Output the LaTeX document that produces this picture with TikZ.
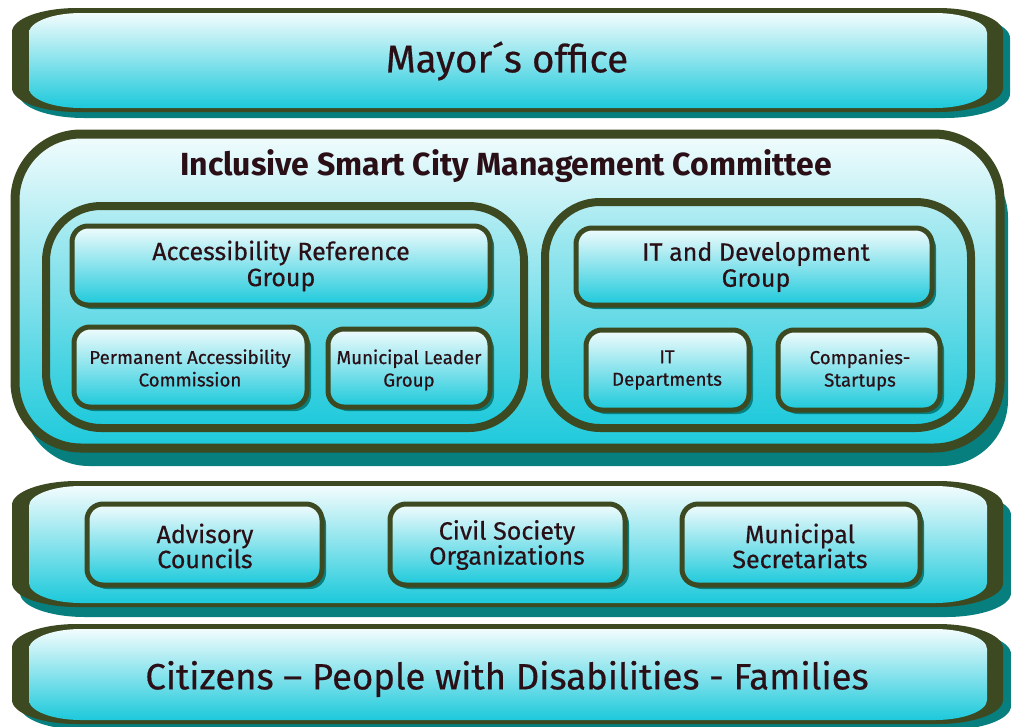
\documentclass[tikz,border=0pt]{standalone}
\usepackage{fontspec}
\setmainfont{Fira Sans}[UprightFeatures={FakeBold=0.5}]
\definecolor{brd}{HTML}{3D4921}
\definecolor{shd}{HTML}{077F7F}
\definecolor{hi}{HTML}{F2FCFD}
\definecolor{lo}{HTML}{1CC9DB}
\definecolor{grphi}{HTML}{B5EDF3}
\definecolor{txt}{HTML}{2A1016}
\newcommand\erect[7]{%
 \path[#1] ({#2+#6},#3) -- ({#4-#6},#3)
  .. controls ({#4-0.45*#6},#3) and (#4,{#3+0.45*#7}) .. (#4,{#3+#7})
  -- (#4,{#5-#7})
  .. controls (#4,{#5-0.45*#7}) and ({#4-0.45*#6},#5) .. ({#4-#6},#5)
  -- ({#2+#6},#5)
  .. controls ({#2+0.45*#6},#5) and (#2,{#5-0.45*#7}) .. (#2,{#5-#7})
  -- (#2,{#3+#7})
  .. controls (#2,{#3+0.45*#7}) and ({#2+0.45*#6},#3) .. ({#2+#6},#3) -- cycle;}
% band: #1 olive top, #2 olive bottom, #3 shadow dx, #4 shadow dy
\newcommand\band[4]{%
 \erect{fill=shd}{12+#3}{#1+#4}{1003+#3}{#2+#4}{65}{24}
 \erect{fill=brd}{12}{#1}{1003}{#2}{65}{24}
 \erect{top color=hi,bottom color=lo}{29}{#1+5}{987}{#2-4}{52}{20}}
\newcommand\smallbx[4]{%
 \path[fill=shd,rounded corners=16] (#1+4,#2+4) rectangle (#3+4,#4+4);
 \path[draw=brd,line width=5pt,top color=hi,bottom color=lo,rounded corners=16] (#1,#2) rectangle (#3,#4);}
\tikzset{
 lbl/.style={text=txt,align=center,inner sep=0pt},
 big/.style={lbl,font=\fontsize{38.5}{44}\selectfont},
 cbig/.style={lbl,font=\fontsize{36.5}{42}\selectfont},
 ttl/.style={lbl,font=\bfseries\fontsize{32}{36}\selectfont},
 grp/.style={lbl,font=\fontsize{25}{26}\selectfont},
 sml/.style={lbl,font=\fontsize{18.7}{22.5}\selectfont},
 mid/.style={lbl,font=\fontsize{25}{25}\selectfont},
}
\begin{document}
\begin{tikzpicture}[x=1pt,y=-1pt]
\useasboundingbox (0,0) rectangle (1011,726);
% Mayor band
\band{8}{112}{7}{6}
\node[big] (mayor) at (507,61) {Mayor´s office};
% Committee
\path[fill=shd,rounded corners=66] (23,152) rectangle (1008,466);
\path[draw=brd,line width=9pt,top color=hi,bottom color=lo,rounded corners=66] (15,134) rectangle (1000,448);
\node[ttl] (title) at (506,166) {Inclusive Smart City Management Committee};
% groups
\path[draw=brd,line width=8pt,top color=grphi,bottom color=lo,rounded corners=55] (46,206) rectangle (524,428);
\path[draw=brd,line width=8pt,top color=grphi,bottom color=lo,rounded corners=55] (545,202) rectangle (971,428);
\smallbx{72}{226}{490}{305}
\node[grp] (arg) at (281,266) {Accessibility Reference\\Group};
\smallbx{576}{228}{932}{305}
\node[grp] (itd) at (756,267) {IT and Development\\Group};
\smallbx{74}{327}{307}{407}
\node[sml] (pac) at (190,368) {Permanent Accessibility\\Commission};
\smallbx{328}{329}{490}{407}
\node[sml] (mlg) at (409,370) {Municipal Leader\\Group};
\smallbx{586}{330}{749}{410}
\node[sml] (itdep) at (667,370) {IT\\Departments};
\smallbx{778}{330}{940}{410}
\node[sml] (comp) at (860,370) {Companies-\\Startups};
% Civil band
\band{481}{607}{8}{10}
\smallbx{87}{504}{322}{585}
\node[mid] (adv) at (205,546) {Advisory\\Councils};
\smallbx{390}{504}{625}{585}
\node[mid] (cso) at (507,545) {Civil Society\\Organizations};
\smallbx{682}{504}{920}{585}
\node[mid] (msec) at (800,546) {Municipal\\Secretariats};
% Citizens band
\band{624}{724}{8}{6}
\node[cbig] (cit) at (507,679) {Citizens – People with Disabilities - Families};
\end{tikzpicture}
\end{document}
